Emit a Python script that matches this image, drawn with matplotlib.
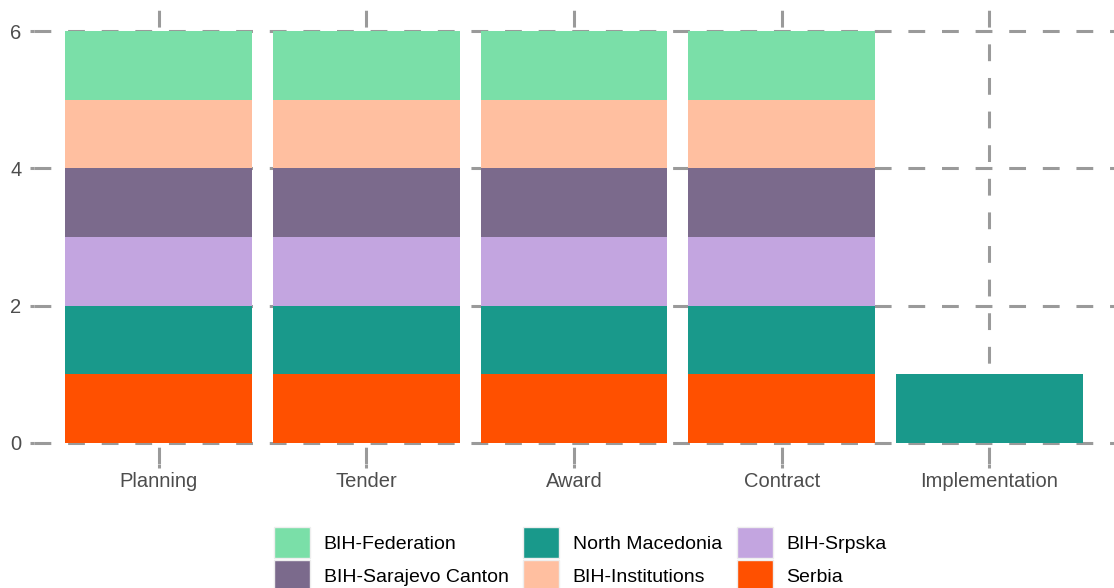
import numpy as np
import matplotlib
matplotlib.use("Agg")
import matplotlib.pyplot as plt
from matplotlib.patches import Patch

plt.rcParams['font.family'] = ['Liberation Sans', 'DejaVu Sans']

stages = ["Planning", "Tender", "Award", "Contract", "Implementation"]
# stacked bottom -> top
series = ["Serbia", "North Macedonia", "BIH-Srpska", "BIH-Sarajevo Canton",
          "BIH-Institutions", "BIH-Federation"]
values = {
    "Serbia":              [1, 1, 1, 1, 0],
    "North Macedonia":     [1, 1, 1, 1, 1],
    "BIH-Srpska":          [1, 1, 1, 1, 0],
    "BIH-Sarajevo Canton": [1, 1, 1, 1, 0],
    "BIH-Institutions":    [1, 1, 1, 1, 0],
    "BIH-Federation":      [1, 1, 1, 1, 0],
}
colors = {
    "Serbia": "#FF5000",
    "North Macedonia": "#19998B",
    "BIH-Srpska": "#C3A5E0",
    "BIH-Sarajevo Canton": "#7B6A8C",
    "BIH-Institutions": "#FFBFA0",
    "BIH-Federation": "#7ADFA8",
}
legend_order = ["BIH-Federation", "BIH-Sarajevo Canton", "North Macedonia",
                "BIH-Institutions", "BIH-Srpska", "Serbia"]

fig = plt.figure(figsize=(11.14, 5.88), dpi=100)
ax = fig.add_axes([0.0305, 0.2116, 0.9695, 0.7707])

x = np.arange(1, len(stages) + 1)
bottom = np.zeros(len(stages))
for s in series:
    v = np.array(values[s], dtype=float)
    ax.bar(x, v, width=0.9, bottom=bottom, color=colors[s], zorder=3,
           linewidth=0)
    bottom += v

grid_col = "#9A9A9A"
ax.set_axisbelow(True)
ax.grid(True, color=grid_col, linewidth=2.2, linestyle=(0, (5.5, 5.5)))
for sp in ax.spines.values():
    sp.set_visible(False)

ax.set_xlim(0.4, 5.6)
ax.set_ylim(-0.3, 6.3)
ax.set_xticks(x)
ax.set_xticklabels(stages)
ax.set_yticks([0, 2, 4, 6])
ax.tick_params(axis='both', colors=grid_col, width=2.2, length=3,
               labelcolor="#4D4D4D", labelsize=14.5)
ax.tick_params(axis='x', pad=3)
ax.tick_params(axis='y', pad=6)

handles = [Patch(facecolor=colors[s], edgecolor="#EEEEEE", linewidth=1)
           for s in legend_order]
fig.legend(handles, legend_order, loc='upper center', bbox_to_anchor=(0.521, 0.12),
           ncol=3, frameon=False, fontsize=14, handlelength=1.85,
           handleheight=2.1, handletextpad=0.7, columnspacing=0.75,
           labelspacing=0.08, borderpad=0)

fig.savefig("out.png", dpi=100)
